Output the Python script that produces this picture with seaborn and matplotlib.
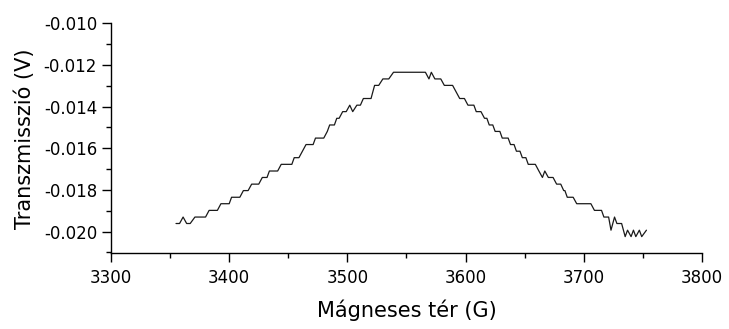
import matplotlib
matplotlib.use("Agg")
import matplotlib.pyplot as plt
import seaborn as sns
import pandas as pd
from matplotlib.ticker import MultipleLocator, FormatStrFormatter

field_G = [3355, 3358, 3361, 3364, 3367, 3371, 3380, 3383, 3390, 3393,
           3400, 3402, 3409, 3412, 3416, 3419, 3425, 3428, 3432, 3434,
           3441, 3444, 3453, 3455, 3459, 3465, 3471, 3473, 3480, 3483,
           3485, 3489, 3491, 3493, 3496, 3499, 3502, 3504.5, 3508, 3511,
           3513.5, 3520, 3523, 3526.5, 3530, 3535, 3539, 3566, 3569, 3571,
           3574, 3579, 3582, 3589, 3595, 3599, 3602, 3607, 3609, 3613,
           3616, 3618, 3620, 3623, 3625, 3629, 3631, 3636, 3638, 3641,
           3643, 3646, 3648, 3651, 3653, 3659, 3662, 3665, 3667, 3670,
           3674, 3677, 3680.5, 3683, 3684, 3686, 3691, 3694, 3706, 3709,
           3715, 3717, 3721, 3723, 3726, 3728, 3732, 3735, 3737, 3740,
           3742, 3744, 3747, 3749, 3753]

transmission_V = [-0.01961, -0.01961, -0.01930, -0.01961, -0.01961, -0.01930, -0.01930, -0.01898, -0.01898, -0.01866,
                  -0.01866, -0.01835, -0.01835, -0.01803, -0.01803, -0.01772, -0.01772, -0.01740, -0.01740, -0.01709,
                  -0.01709, -0.01677, -0.01677, -0.01645, -0.01645, -0.01582, -0.01582, -0.01551, -0.01551, -0.01519,
                  -0.01488, -0.01488, -0.01456, -0.01456, -0.01424, -0.01424, -0.01393, -0.01424, -0.01393, -0.01393,
                  -0.01361, -0.01361, -0.01298, -0.01298, -0.01267, -0.01267, -0.01235, -0.01235, -0.01267, -0.01235,
                  -0.01267, -0.01267, -0.01298, -0.01298, -0.01361, -0.01361, -0.01393, -0.01393, -0.01424, -0.01424,
                  -0.01456, -0.01456, -0.01488, -0.01488, -0.01519, -0.01519, -0.01551, -0.01551, -0.01582, -0.01582,
                  -0.01614, -0.01614, -0.01645, -0.01645, -0.01677, -0.01677, -0.01709, -0.01740, -0.01709, -0.01740,
                  -0.01740, -0.01772, -0.01772, -0.01803, -0.01803, -0.01835, -0.01835, -0.01866, -0.01866, -0.01898,
                  -0.01898, -0.01930, -0.01930, -0.01993, -0.01930, -0.01961, -0.01961, -0.02024, -0.01993, -0.02024,
                  -0.01993, -0.02024, -0.01993, -0.02024, -0.01993]

x_ticks = [3300, 3400, 3500, 3600, 3700, 3800]
y_ticks = [-0.020, -0.018, -0.016, -0.014, -0.012, -0.010]

df = pd.DataFrame({"field": field_G, "trans": transmission_V})

sns.set_theme(style="ticks")
plt.rcParams["font.family"] = ["DejaVu Sans"]

fig = plt.figure(figsize=(7.29, 3.29), dpi=100)
ax = fig.add_axes([111 / 729, 1 - 253.3 / 329, (702 - 111) / 729, (253.3 - 23.3) / 329])

sns.lineplot(data=df, x="field", y="trans", ax=ax, color="#1a1a1a",
             linewidth=0.9, estimator=None, sort=False)

ax.set_xlim(3300, 3800)
ax.set_ylim(-0.02104, -0.010)
ax.set_xticks(x_ticks)
ax.set_yticks(y_ticks)
ax.xaxis.set_minor_locator(MultipleLocator(50))
ax.yaxis.set_minor_locator(MultipleLocator(0.001))
ax.yaxis.set_major_formatter(FormatStrFormatter("%.3f"))

for s in ["top", "right"]:
    ax.spines[s].set_visible(False)
for s in ["left", "bottom"]:
    ax.spines[s].set_linewidth(1.0)
    ax.spines[s].set_color("black")

ax.tick_params(axis="both", which="major", direction="out", length=6.5, width=1.0,
               labelsize=12, pad=3.5, colors="black")
ax.tick_params(axis="x", which="major", pad=5)
ax.tick_params(axis="both", which="minor", direction="out", length=3.5, width=1.0, colors="black")

ax.set_xlabel("Mágneses tér (G)", fontsize=15, labelpad=9, color="black")
ax.set_ylabel("Transzmisszió (V)", fontsize=15, labelpad=6, color="black")

fig.savefig("out.png", dpi=100)
